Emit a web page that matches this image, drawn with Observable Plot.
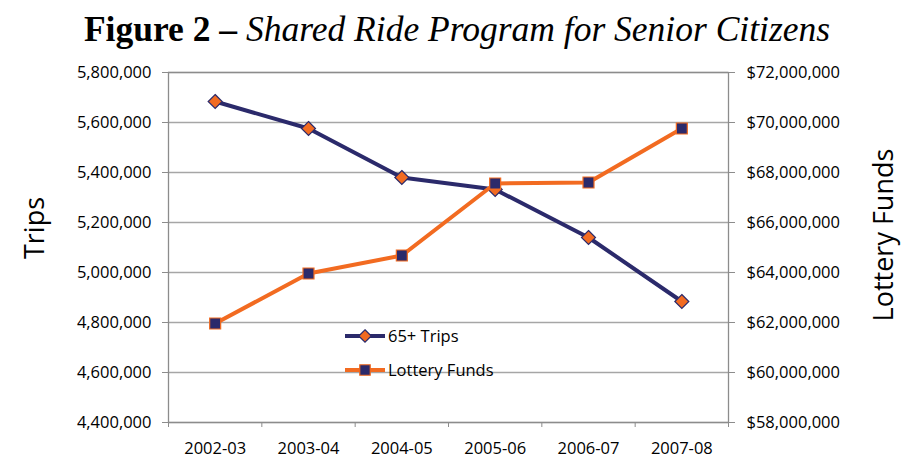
<!DOCTYPE html>
<html><head><meta charset="utf-8">
<script src="https://cdn.jsdelivr.net/npm/d3@7"></script>
<script src="https://cdn.jsdelivr.net/npm/@observablehq/plot@0.6"></script>
<style>
body{margin:0;background:#fff;}
#wrap{position:relative;width:901px;height:461px;overflow:hidden;font-family:"Open Sans",sans-serif;color:#000;}
#title{height:58px;text-align:center;font-family:"Liberation Serif",serif;font-size:35.5px;line-height:58px;white-space:nowrap;padding-left:13px;}
#title b{font-weight:bold;}
#title i{font-style:italic;}
.ylab{position:absolute;transform:translate(-50%,-50%) rotate(-90deg);font-size:27px;white-space:nowrap;}
#legend{position:absolute;left:0;top:0;pointer-events:none;}
#chart svg{display:block;}
</style>
</head><body>
<div id="wrap">
  <div id="title"><b>Figure 2 –</b> <i>Shared Ride Program for Senior Citizens</i></div>
  <div id="chart"></div>
  <div class="ylab" style="left:33px;top:228px;">Trips</div>
  <div class="ylab" style="left:882px;top:235px;">Lottery Funds</div>
  <svg id="legend" width="901" height="461"></svg>
</div>
<script>
const years = ["2002-03", "2003-04", "2004-05", "2005-06", "2006-07", "2007-08"];
const trips = [5684000, 5576000, 5380000, 5332000, 5140000, 4884000];
const funds = [61960000, 63960000, 64680000, 67560000, 67600000, 69760000];
const tripTicks = [4400000, 4600000, 4800000, 5000000, 5200000, 5400000, 5600000, 5800000];
const fundTicks = [58000000, 60000000, 62000000, 64000000, 66000000, 68000000, 70000000, 72000000];
const seriesNames = ["65+ Trips", "Lottery Funds"];

const navy = "#2b2a6b", orange = "#f26b21";
const toLeft = v => 4400000 + (v - 58000000) / 10;
const fromLeft = v => 58000000 + (v - 4400000) * 10;
const data = years.map((y, i) => ({year: y, xi: i + 0.5, trips: trips[i], funds: toLeft(funds[i])}));
const fmt = d3.format(",");

const chart = Plot.plot({
  width: 901, height: 403,
  marginTop: 14, marginBottom: 39, marginLeft: 168, marginRight: 173,
  style: {fontFamily: "'Open Sans', sans-serif", fontSize: "16.5px", color: "#000", background: "#fff"},
  x: {type: "linear", domain: [0, years.length], axis: null},
  y: {domain: [4400000, 5800000], axis: null},
  marks: [
    Plot.gridY(tripTicks, {stroke: "#a6a6a6", strokeOpacity: 1, strokeWidth: 1.3}),
    Plot.frame({stroke: "#8c8c8c", strokeWidth: 1.3}),
    Plot.axisY(tripTicks, {anchor: "left", tickSize: 6, tickPadding: 11, stroke: "#8c8c8c", fill: "#000", tickFormat: fmt, label: null, fontSize: 16.5}),
    Plot.axisY(fundTicks.map(toLeft), {anchor: "right", tickSize: 6, tickPadding: 12, stroke: "#8c8c8c", fill: "#000", tickFormat: d => "$" + fmt(Math.round(fromLeft(d))), label: null, fontSize: 16.5}),
    Plot.axisX(d3.range(0, years.length + 1), {anchor: "bottom", tickSize: 5, stroke: "#8c8c8c", tickFormat: () => "", label: null}),
    Plot.axisX(data.map(d => d.xi), {anchor: "bottom", tickSize: 0, tickPadding: 20, fill: "#000", tickFormat: d => years[Math.floor(d)], label: null, fontSize: 16.5}),
    Plot.line(data, {x: "xi", y: "trips", stroke: navy, strokeWidth: 4}),
    Plot.dot(data, {x: "xi", y: "trips", symbol: "diamond2", r: 6.3, fill: orange, stroke: navy, strokeWidth: 1.2}),
    Plot.line(data, {x: "xi", y: "funds", stroke: orange, strokeWidth: 4}),
    Plot.dot(data, {x: "xi", y: "funds", symbol: "square", r: 6.2, fill: navy, stroke: orange, strokeWidth: 1.2})
  ]
});
document.getElementById("chart").appendChild(chart);

// legend
const lg = d3.select("#legend");
const rows = [
  {name: seriesNames[0], stroke: navy, fill: orange, mstroke: navy, sym: d3.symbolDiamond2, size: 100, y: 336},
  {name: seriesNames[1], stroke: orange, fill: navy, mstroke: orange, sym: d3.symbolSquare, size: 110, y: 370}
];
rows.forEach(r => {
  lg.append("line").attr("x1", 345).attr("x2", 385).attr("y1", r.y).attr("y2", r.y)
    .attr("stroke", r.stroke).attr("stroke-width", 4);
  lg.append("path").attr("d", d3.symbol(r.sym, r.size)()).attr("transform", `translate(365,${r.y})`)
    .attr("fill", r.fill).attr("stroke", r.mstroke).attr("stroke-width", 1.2);
  lg.append("text").attr("x", 388).attr("y", r.y).attr("dy", "0.35em")
    .attr("font-family", "'Open Sans', sans-serif").attr("font-size", 16.5).text(r.name);
});
</script>
</body></html>
